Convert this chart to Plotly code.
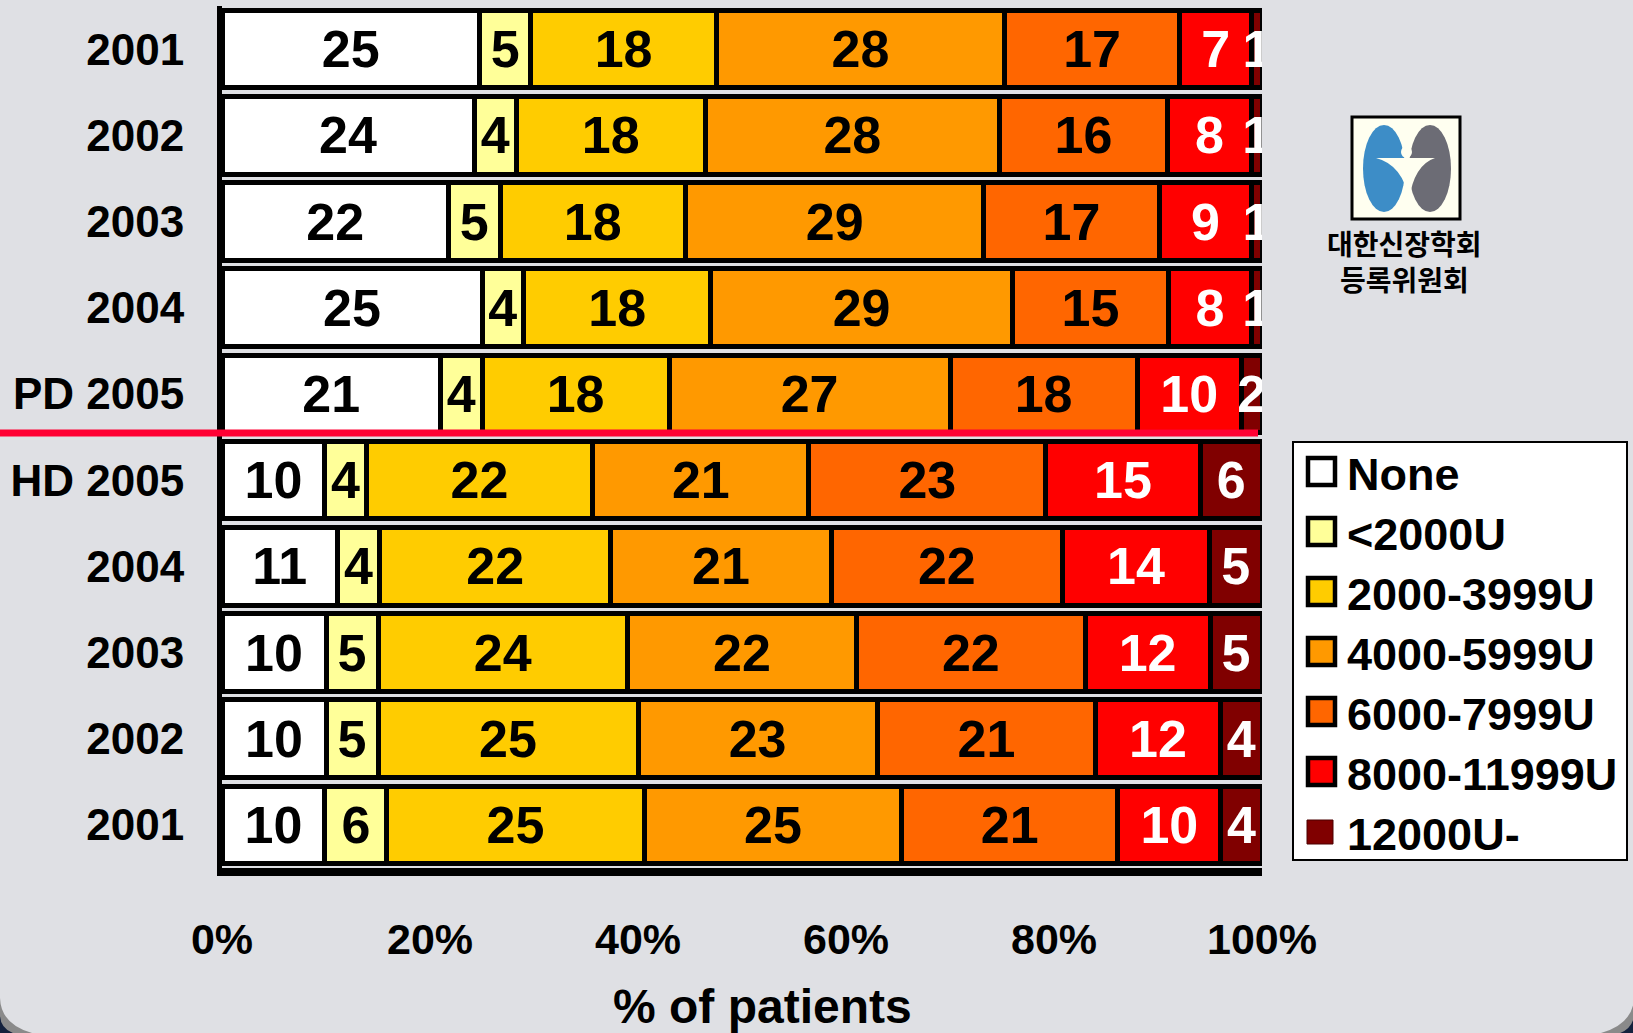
import plotly.graph_objects as go

# ---------------- data ----------------
row_ids = ["PD 2001", "PD 2002", "PD 2003", "PD 2004", "PD 2005",
           "HD 2005", "HD 2004", "HD 2003", "HD 2002", "HD 2001"]
row_labels = ["2001", "2002", "2003", "2004", "PD 2005",
              "HD 2005", "2004", "2003", "2002", "2001"]

series_names = ["None", "<2000U", "2000-3999U", "4000-5999U",
                "6000-7999U", "8000-11999U", "12000U-"]

none_vals = [25, 24, 22, 25, 21, 10, 11, 10, 10, 10]
lt2000_vals = [5, 4, 5, 4, 4, 4, 4, 5, 5, 6]
u2000_3999_vals = [18, 18, 18, 18, 18, 22, 22, 24, 25, 25]
u4000_5999_vals = [28, 28, 29, 29, 27, 21, 21, 22, 23, 25]
u6000_7999_vals = [17, 16, 17, 15, 18, 23, 22, 22, 21, 21]
u8000_11999_vals = [7, 8, 9, 8, 10, 15, 14, 12, 12, 10]
u12000_vals = [1, 1, 1, 1, 2, 6, 5, 5, 4, 4]

series_values = [none_vals, lt2000_vals, u2000_3999_vals, u4000_5999_vals,
                 u6000_7999_vals, u8000_11999_vals, u12000_vals]

x_tickvals = [0, 20, 40, 60, 80, 100]
x_ticktext = ["0%", "20%", "40%", "60%", "80%", "100%"]

logo_lines = ["대한신장학회", "등록위원회"]

# ---------------- styles ----------------
series_colors = ["#FFFFFF", "#FFFF99", "#FFCC00", "#FF9900",
                 "#FF6600", "#FF0000", "#800000"]
text_colors = ["black", "black", "black", "black", "black", "white", "white"]
BG = "#DFE0E4"
FONT = "Liberation Sans, Arial, sans-serif"

W, H = 1633, 1033
L, R, T, B = 222, 371, 6, 165
PW = W - L - R
PH = H - T - B
PBOT = H - B


def px(x):
    return (x - L) / PW


def py(y):
    return (PBOT - y) / PH


fig = go.Figure()
for name, vals, col, tcol in zip(series_names, series_values,
                                 series_colors, text_colors):
    fig.add_trace(go.Bar(
        y=row_ids, x=vals, orientation="h", name=name,
        marker=dict(color=col, line=dict(color="black", width=5)),
        text=[str(v) for v in vals], textposition="inside",
        insidetextanchor="middle", textangle=0, constraintext="none",
        textfont=dict(family=FONT, size=52, color=tcol, weight="bold"),
        showlegend=False, hoverinfo="skip",
    ))

shapes = []
annotations = []

# red separator between PD and HD groups
shapes.append(dict(type="line", xref="paper", yref="paper",
                   x0=px(0), x1=px(1258), y0=py(433), y1=py(433),
                   line=dict(color="#FF0033", width=7), layer="above"))

# manual legend
shapes.append(dict(type="rect", xref="paper", yref="paper",
                   x0=px(1293), x1=px(1627), y0=py(860), y1=py(442),
                   fillcolor="white", line=dict(color="black", width=2),
                   layer="above"))
for i, (name, col) in enumerate(zip(series_names, series_colors)):
    cy = 472 + 60 * i
    if i < len(series_names) - 1:
        shapes.append(dict(type="rect", xref="paper", yref="paper",
                           x0=px(1308), x1=px(1335), y0=py(cy + 13), y1=py(cy - 14),
                           fillcolor=col, line=dict(color="black", width=4.5),
                           layer="above"))
    else:
        shapes.append(dict(type="rect", xref="paper", yref="paper",
                           x0=px(1307), x1=px(1333), y0=py(cy + 12), y1=py(cy - 12),
                           fillcolor=col, line=dict(color="#4A0000", width=1),
                           layer="above"))
    annotations.append(dict(
        xref="paper", yref="paper", x=px(1345), y=py(cy + 2),
        xanchor="left", yanchor="middle", showarrow=False,
        text=name.replace("<", "&lt;"),
        font=dict(family=FONT, size=45, color="black", weight="bold")))


def path(points, close=True):
    s = ""
    for cmd, pts in points:
        coords = " ".join(f"{px(a):.5f},{py(b):.5f}" for a, b in pts)
        s += f"{cmd}{coords} "
    if close:
        s += "Z"
    return s


# logo
shapes.append(dict(type="rect", xref="paper", yref="paper",
                   x0=px(1352), x1=px(1460), y0=py(219), y1=py(117),
                   fillcolor="#FFFFF0", line=dict(color="black", width=3),
                   layer="above"))
shapes.append(dict(type="circle", xref="paper", yref="paper",
                   x0=px(1363), x1=px(1405), y0=py(212), y1=py(125),
                   fillcolor="#3D8DC7", line=dict(width=0), layer="above"))
shapes.append(dict(type="circle", xref="paper", yref="paper",
                   x0=px(1409), x1=px(1451), y0=py(212), y1=py(125),
                   fillcolor="#6C6C75", line=dict(width=0), layer="above"))
shapes.append(dict(type="path", xref="paper", yref="paper",
                   path=path([("M", [(1376, 158)]), ("L", [(1435, 158)]),
                              ("Q", [(1414, 165), (1409, 200)]),
                              ("Q", [(1403, 165), (1376, 158)])]),
                   fillcolor="#FFFFF0", line=dict(width=0), layer="above"))
shapes.append(dict(type="circle", xref="paper", yref="paper",
                   x0=px(1401), x1=px(1412), y0=py(158), y1=py(146),
                   fillcolor="#FFFFF0", line=dict(width=0), layer="above"))
annotations.append(dict(
    xref="paper", yref="paper", x=px(1404), y=py(261),
    xanchor="center", yanchor="middle", showarrow=False,
    text="<br>".join(logo_lines),
    font=dict(family="Noto Sans CJK KR", size=28, color="black",
              weight="bold")))

# axis title
annotations.append(dict(
    xref="paper", yref="paper", x=px(762), y=py(1006),
    xanchor="center", yanchor="middle", showarrow=False,
    text="% of patients",
    font=dict(family=FONT, size=48, color="black", weight="bold")))

# slide frame corners
shapes.append(dict(type="path", xref="paper", yref="paper",
                   path=path([("M", [(0, 998)]), ("Q", [(1, 1026), (36, 1034)]),
                              ("L", [(0, 1034)])]),
                   fillcolor="#8A8A8A", line=dict(width=0), layer="above"))
shapes.append(dict(type="path", xref="paper", yref="paper",
                   path=path([("M", [(0, 1016)]), ("Q", [(1, 1030), (16, 1034)]),
                              ("L", [(0, 1034)])]),
                   fillcolor="#14213D", line=dict(width=0), layer="above"))
shapes.append(dict(type="path", xref="paper", yref="paper",
                   path=path([("M", [(1634, 999)]), ("Q", [(1632, 1026), (1597, 1034)]),
                              ("L", [(1634, 1034)])]),
                   fillcolor="#8A8A8A", line=dict(width=0), layer="above"))
shapes.append(dict(type="path", xref="paper", yref="paper",
                   path=path([("M", [(1634, 1016)]), ("Q", [(1632, 1030), (1617, 1034)]),
                              ("L", [(1634, 1034)])]),
                   fillcolor="#14213D", line=dict(width=0), layer="above"))

fig.update_layout(
    width=W, height=H,
    margin=dict(l=L, r=R, t=T, b=B, pad=0),
    paper_bgcolor=BG, plot_bgcolor=BG,
    barmode="stack", barnorm="percent", bargap=0.1,
    showlegend=False,
    font=dict(family=FONT, color="black"),
    shapes=shapes, annotations=annotations,
    xaxis=dict(range=[0, 100], tickvals=x_tickvals, ticktext=x_ticktext,
               showgrid=False, zeroline=False, showline=True,
               linecolor="black", linewidth=8, ticks="",
               ticklabelstandoff=26,
               tickfont=dict(family=FONT, size=43, color="black", weight="bold"),
               fixedrange=True),
    yaxis=dict(categoryorder="array", categoryarray=row_ids,
               autorange="reversed", tickvals=row_ids, ticktext=row_labels,
               showgrid=False, zeroline=False, showline=True,
               linecolor="black", linewidth=5, ticks="",
               ticklabelstandoff=24,
               tickfont=dict(family=FONT, size=44, color="black", weight="bold"),
               fixedrange=True),
)

fig.write_html("out.html",
               config={"displayModeBar": False},
               post_script="document.body.style.margin='0';"
                           "document.body.style.overflow='hidden';")
